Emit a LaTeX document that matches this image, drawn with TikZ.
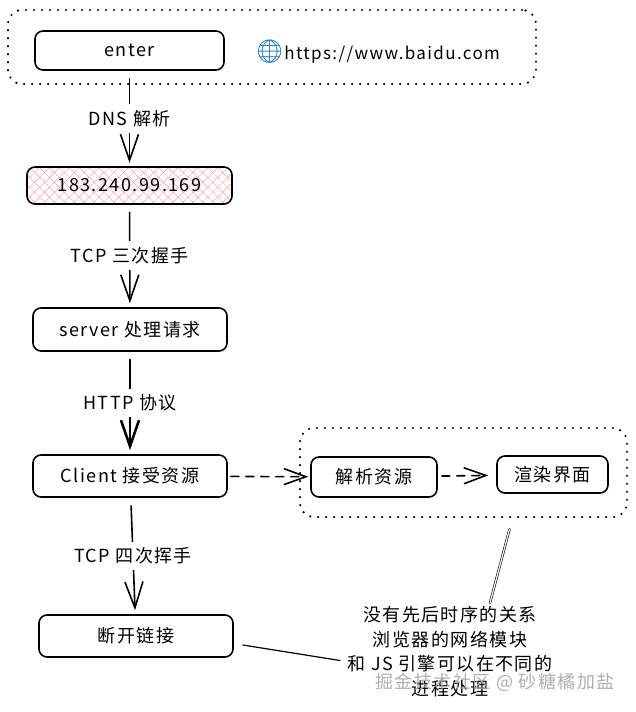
\documentclass[tikz,border=0pt]{standalone}
\usepackage{fontspec}
\setmainfont{Noto Sans CJK SC}[LetterSpace=8]
\newfontfamily\emojifont{Noto Emoji}
\usetikzlibrary{calc,arrows.meta,patterns.meta}

\begin{document}
\begin{tikzpicture}[
					x=1pt,y=1pt,
					>={Straight Barb[length=26pt,width=18pt]},
					line cap=round,line join=round,
					font=\fontsize{18}{24}\selectfont,
					box/.style={draw,line width=1.6pt,rounded corners=8pt,inner sep=0pt},
					grp/.style={draw,line width=2.4pt,dash pattern=on 0pt off 8pt,rounded corners=14pt},
					lbl/.style={fill=white,inner sep=6pt},
					flow/.style={->,line width=1.6pt,shorten <=8pt,shorten >=4pt},
					side/.style={-{Straight Barb[length=22pt,width=16pt]},line width=1.6pt,dash pattern=on 8pt off 7pt}
					]
					%----- parameters
					\def\boxW{194}
					\def\boxH{42}
					
					% page frame
					\useasboundingbox (0,0) rectangle (636,-712);
					
					%----- top group: enter + url
					\node[grp, minimum width=528, minimum height=74] (grpTop) at (272,-47) {};
					\node[box, minimum width=189, minimum height=39] (enter) at (129.5,-50.5) {enter};
					\node[anchor=west, inner sep=0pt, font=\fontsize{17}{24}\selectfont] (url) at (255,-52)
					{{\emojifont\fontsize{23}{24}\selectfont\color{cyan!60!blue}🌐}https://www.baidu.com};
					
					%----- main chain
					\node[box, minimum width=205, minimum height=37,
					pattern={Hatch[angle=45,distance=7pt,line width=0.5pt]}, pattern color=red!35] (ip) at (129.5,-185.5) {183.240.99.169};
					\node[box, minimum width=\boxW, minimum height=43] (server) at (130,-329.5) {server 处理请求};
					\node[box, minimum width=\boxW, minimum height=\boxH] (client) at (130,-476) {Client 接受资源};
					\node[box, minimum width=\boxW, minimum height=\boxH] (close) at (136,-636) {断开链接};
					
					%----- right group: parse + render
					\node[grp, minimum width=327, minimum height=89] (grpR) at (463.5,-472.5) {};
					\node[box, minimum width=126, minimum height=40] (parse) at (374,-477) {解析资源};
					\node[box, minimum width=111, minimum height=37] (render) at (552.5,-474.5) {渲染界面};
					
					%----- arrows with labels
					\draw[flow] (enter) -- node[lbl] {DNS 解析} (ip);
					\draw[flow] (ip) -- node[lbl] {TCP 三次握手} (server);
					\draw[flow, line width=2.6pt] (server) -- node[lbl] {HTTP 协议} (client);
					\draw[flow] (client) -- node[lbl] {TCP 四次挥手} (close);
					
					% dashed side arrows
					\draw[side, shorten <=3pt, shorten >=2pt] (client) -- (parse);
					\draw[side, shorten <=4pt, shorten >=8pt] (parse) -- (render);
					
					%----- note
					\node[align=center, font=\fontsize{18}{24.5}\selectfont] (note) at (450,-651.5)
					{没有先后时序的关系\\浏览器的网络模块\\和 JS 引擎可以在不同的\\进程处理};
					
					\coordinate (ldrTop) at ($(grpR.south)+(46,-11)$);
					\coordinate (ldrLeft) at ($(close.east)+(9,-9)$);
					\draw[double, line width=0.6pt, double distance=1.2pt] (ldrTop) -- ($(note.north)+(40,0)$);
					\draw[line width=1.2pt] (ldrLeft) -- ($(note.west)+(-4,-9)$);
					
					% watermark
					\node[text=gray!70, opacity=0.9, font=\fontsize{18}{24}\selectfont] (mark) at (495,-682) {掘金技术社区 @ 砂糖橘加盐};
					
				\end{tikzpicture}
\end{document}
